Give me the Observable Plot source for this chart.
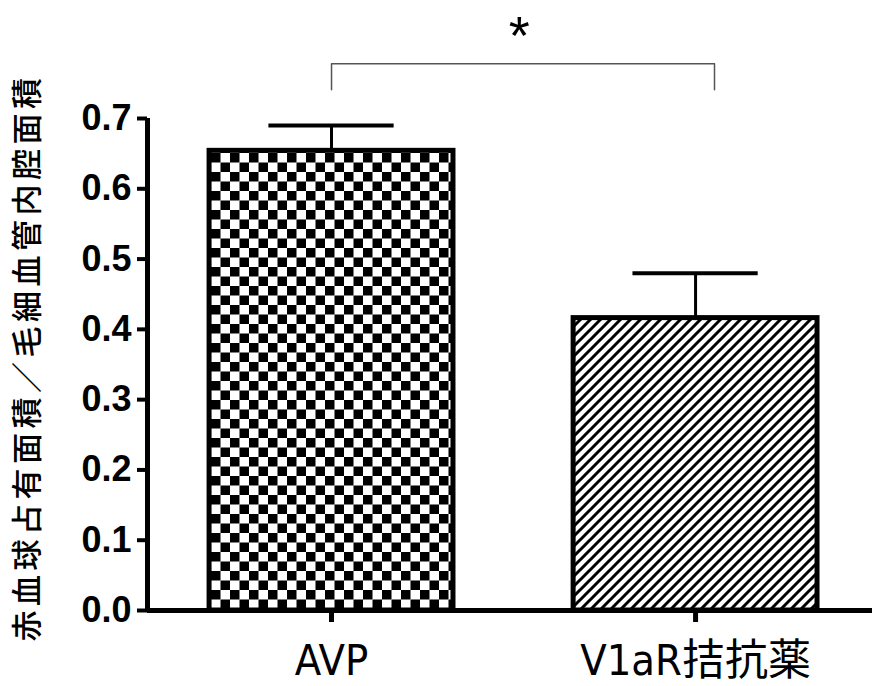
<!DOCTYPE html>
<html>
<head>
<meta charset="utf-8">
<script src="https://cdn.jsdelivr.net/npm/d3@7"></script>
<script src="https://cdn.jsdelivr.net/npm/@observablehq/plot@0.6"></script>
<style>
  html, body { margin: 0; padding: 0; background: #fff; }
  #chart { width: 872px; height: 686px; }
</style>
</head>
<body>
<div id="chart"></div>
<script>
// ---- data ----
const categories = ["AVP", "V1aR拮抗薬"];
const positions = [1, 2];
const means = [0.654, 0.416];
const errors = [0.036, 0.064];
const patterns = ["url(#checker)", "url(#hatch)"];
const yTicks = [0, 0.1, 0.2, 0.3, 0.4, 0.5, 0.6, 0.7];
const yLabel = "赤血球占有面積／毛細血管内腔面積";
const bracketX = [1, 2.052];
const bracketTop = 0.778;
const bracketBottom = 0.741;
const sigLabel = ["*"];
const starY = 0.817;

// ---- layout config ----
const xDomain = [0.4945, 2.486];
const barHalf = 0.335;
const capHalf = 0.172;

const data = categories.map((c, i) => ({cat: c, x: positions[i], mean: means[i], err: errors[i]}));
const bracket = [
  {x: bracketX[0], y: bracketBottom},
  {x: bracketX[0], y: bracketTop},
  {x: bracketX[1], y: bracketTop},
  {x: bracketX[1], y: bracketBottom}
];
const narrow = "'Liberation Sans Narrow', 'DejaVu Sans Condensed', 'Noto Sans CJK JP', sans-serif";

const svg = Plot.plot({
  width: 872,
  height: 686,
  marginLeft: 147,
  marginRight: 0,
  marginTop: 118,
  marginBottom: 76,
  x: {type: "linear", domain: xDomain},
  y: {domain: [0, 0.7]},
  marks: [
    // error bars
    Plot.ruleX(data, {x: "x", y1: "mean", y2: d => d.mean + d.err, stroke: "black", strokeWidth: 3}),
    Plot.ruleY(data, {y: d => d.mean + d.err, x1: d => d.x - capHalf, x2: d => d.x + capHalf, stroke: "black", strokeWidth: 4}),
    // bars
    Plot.rect(data.filter((d, i) => i === 0), {x1: d => d.x - barHalf, x2: d => d.x + barHalf, y1: 0, y2: "mean", fill: patterns[0], stroke: "black", strokeWidth: 5}),
    Plot.rect(data.filter((d, i) => i === 1), {x1: d => d.x - barHalf, x2: d => d.x + barHalf, y1: 0, y2: "mean", fill: patterns[1], stroke: "black", strokeWidth: 5}),
    // axes
    Plot.axisY({ticks: yTicks, tickFormat: d3.format(".1f"), tickSize: 10, tickPadding: 6, strokeWidth: 4,
      fontSize: 36, fontWeight: "bold", fontFamily: "'Liberation Sans', Arial, sans-serif", label: null}),
    Plot.axisX({ticks: positions, tickFormat: d => categories[positions.indexOf(d)], tickSize: 12, tickPadding: 22,
      strokeWidth: 5, fontSize: 43, fontFamily: narrow, label: null}),
    Plot.ruleX([xDomain[0]], {stroke: "black", strokeWidth: 5}),
    Plot.ruleY([0], {stroke: "black", strokeWidth: 5}),
    // y label
    Plot.text([yLabel], {frameAnchor: "left", textAnchor: "middle", dx: -119, dy: -7, rotate: -90, fontSize: 31,
      fontFamily: "'Noto Sans CJK JP', sans-serif", fontWeight: 500}),
    // significance bracket
    Plot.line(bracket, {x: "x", y: "y", stroke: "#555", strokeWidth: 1.5}),
    Plot.text(sigLabel, {x: (bracketX[0] + bracketX[1]) / 2 - 0.01, y: starY, fontSize: 54,
      fontFamily: "'Liberation Sans', Arial, sans-serif", fill: "black"})
  ]
});

// patterns
const defs = d3.select(svg).insert("defs", ":first-child");
const chk = defs.append("pattern").attr("id", "checker").attr("patternUnits", "userSpaceOnUse")
  .attr("width", 19).attr("height", 19).attr("x", 211).attr("y", 153);
chk.append("rect").attr("width", 19).attr("height", 19).attr("fill", "white");
chk.append("rect").attr("width", 9.5).attr("height", 9.5).attr("fill", "black");
chk.append("rect").attr("x", 9.5).attr("y", 9.5).attr("width", 9.5).attr("height", 9.5).attr("fill", "black");
const h = defs.append("pattern").attr("id", "hatch").attr("patternUnits", "userSpaceOnUse")
  .attr("width", 10).attr("height", 10);
h.append("rect").attr("width", 10).attr("height", 10).attr("fill", "white");
h.append("path").attr("d", "M-2,2 L2,-2 M0,10 L10,0 M8,12 L12,8").attr("stroke", "black").attr("stroke-width", 3);

// letter spacing for y label
d3.select(svg).selectAll("text").filter(function() { return this.textContent === yLabel; })
  .attr("letter-spacing", 4.5);

document.getElementById("chart").appendChild(svg);
</script>
</body>
</html>
